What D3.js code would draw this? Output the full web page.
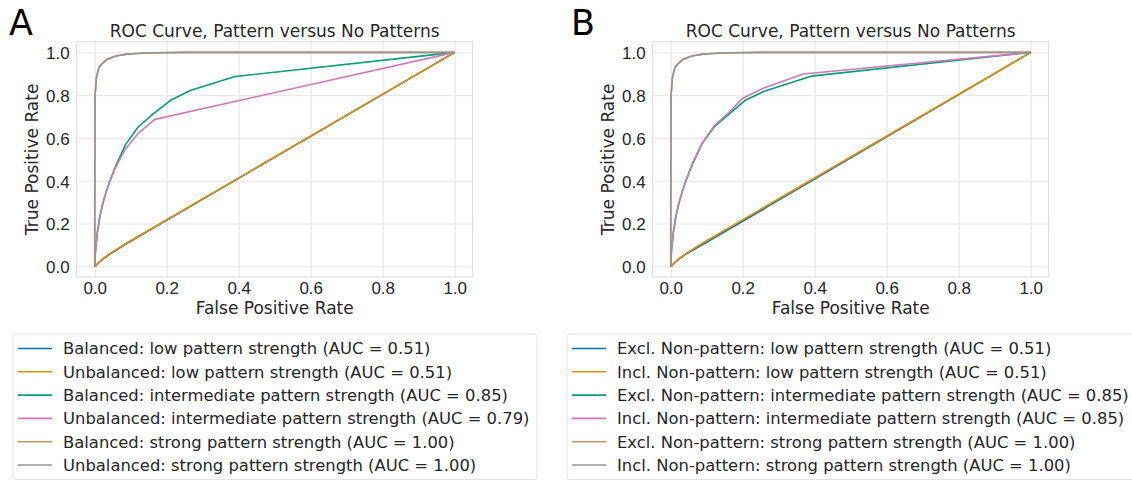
<!DOCTYPE html>
<html>
<head>
<meta charset="utf-8">
<script src="https://cdn.jsdelivr.net/npm/d3@7"></script>
<style>
  body { margin: 0; background: #fff; }
  svg { display: block; font-family: "DejaVu Sans", sans-serif; }
  .tick text { fill: #262626; font-size: 17px; }
  .domain { display: none; }
</style>
</head>
<body>
<svg id="chart" width="1132" height="481"></svg>
<script>
// Tick values shared by both axes.
const rateTicks = [0, 0.2, 0.4, 0.6, 0.8, 1.0];

// Series colours (seaborn colorblind).
const seriesColors = ["#0173b2", "#de8f05", "#029e73", "#cc78bc", "#ca9161", "#949494"];

// Panel A: balanced vs unbalanced, [FPR, TPR].
const aLowBalanced = [[0, 0], [0.02, 0.03], [0.045, 0.06], [0.09, 0.108], [1, 1]];
const aLowUnbalanced = [[0, 0], [0.02, 0.032], [0.045, 0.063], [0.09, 0.11], [1, 1]];
const aMidBalanced = [[0, 0], [0.002, 0.07], [0.0075, 0.16], [0.015, 0.24], [0.025, 0.31], [0.04, 0.39],
  [0.06, 0.475], [0.086, 0.57], [0.12, 0.65], [0.165, 0.716], [0.211, 0.776], [0.265, 0.822], [0.39, 0.887], [1, 1]];
const aMidUnbalanced = [[0, 0], [0.002, 0.07], [0.0075, 0.16], [0.015, 0.24], [0.025, 0.31], [0.04, 0.39],
  [0.06, 0.47], [0.086, 0.55], [0.12, 0.62], [0.167, 0.687], [1, 1]];
const aStrongBalanced = [[0, 0], [0.0005, 0.6], [0.001, 0.8], [0.005, 0.884], [0.012, 0.93], [0.021, 0.949],
  [0.035, 0.968], [0.058, 0.983], [0.09, 0.992], [0.14, 0.997], [0.25, 1], [1, 1]];
const aStrongUnbalanced = [[0, 0], [0.0005, 0.6], [0.001, 0.8], [0.005, 0.886], [0.012, 0.93], [0.021, 0.949],
  [0.035, 0.968], [0.058, 0.983], [0.09, 0.992], [0.14, 0.997], [0.25, 1], [1, 1]];

// Panel B: excluding vs including non-pattern.
const bLowExcl = [[0, 0], [0.02, 0.03], [0.045, 0.06], [0.095, 0.107], [1, 1]];
const bLowIncl = [[0, 0], [0.02, 0.032], [0.045, 0.063], [0.09, 0.11], [1, 1]];
const bMidExcl = [[0, 0], [0.002, 0.07], [0.0075, 0.16], [0.015, 0.24], [0.025, 0.31], [0.04, 0.39],
  [0.06, 0.475], [0.086, 0.57], [0.12, 0.65], [0.165, 0.716], [0.206, 0.775], [0.262, 0.82], [0.39, 0.889], [1, 1]];
const bMidIncl = [[0, 0], [0.002, 0.07], [0.0075, 0.16], [0.015, 0.24], [0.025, 0.31], [0.04, 0.392],
  [0.06, 0.48], [0.086, 0.572], [0.12, 0.655], [0.165, 0.725], [0.2, 0.786], [0.257, 0.832], [0.368, 0.899], [1, 1]];
const bStrongExcl = aStrongBalanced;
const bStrongIncl = aStrongUnbalanced;

const aLabels = [
  "Balanced: low pattern strength (AUC = 0.51)",
  "Unbalanced: low pattern strength (AUC = 0.51)",
  "Balanced: intermediate pattern strength (AUC = 0.85)",
  "Unbalanced: intermediate pattern strength (AUC = 0.79)",
  "Balanced: strong pattern strength (AUC = 1.00)",
  "Unbalanced: strong pattern strength (AUC = 1.00)"
];
const bLabels = [
  "Excl. Non-pattern: low pattern strength (AUC = 0.51)",
  "Incl. Non-pattern: low pattern strength (AUC = 0.51)",
  "Excl. Non-pattern: intermediate pattern strength (AUC = 0.85)",
  "Incl. Non-pattern: intermediate pattern strength (AUC = 0.85)",
  "Excl. Non-pattern: strong pattern strength (AUC = 1.00)",
  "Incl. Non-pattern: strong pattern strength (AUC = 1.00)"
];

const svg = d3.select("#chart");
const TEXT = "#262626";

const drawPanel = ({ letter, letterX, left, series, labels, legendX, legendW }) => {
  // Axes box.
  const top = 41.7;
  const bottom = 277;
  const right = left + 396;

  const x = d3.scaleLinear().domain([-0.05, 1.05]).range([left, right]);
  const y = d3.scaleLinear().domain([-0.05, 1.05]).range([bottom, top]);

  const g = svg.append("g");

  // Grid.
  g.append("g")
    .attr("transform", `translate(0,${bottom})`)
    .call(d3.axisBottom(x).tickValues(rateTicks).tickSize(-(bottom - top)).tickFormat(""))
    .call(s => s.selectAll(".tick line").attr("stroke", "#e4e4e4").attr("stroke-width", 1));
  g.append("g")
    .attr("transform", `translate(${left},0)`)
    .call(d3.axisLeft(y).tickValues(rateTicks).tickSize(-(right - left)).tickFormat(""))
    .call(s => s.selectAll(".tick line").attr("stroke", "#e4e4e4").attr("stroke-width", 1));

  // Spines.
  g.append("rect")
    .attr("x", left).attr("y", top)
    .attr("width", right - left).attr("height", bottom - top)
    .attr("fill", "none").attr("stroke", "#dadada").attr("stroke-width", 1);

  // Tick labels.
  g.append("g")
    .attr("transform", `translate(0,${bottom})`)
    .call(d3.axisBottom(x).tickValues(rateTicks).tickSize(0).tickPadding(4).tickFormat(d3.format(".1f")))
    .call(s => s.selectAll(".tick text").attr("dy", "0.71em").attr("y", 5));
  g.append("g")
    .attr("transform", `translate(${left},0)`)
    .call(d3.axisLeft(y).tickValues(rateTicks).tickSize(0).tickPadding(7).tickFormat(d3.format(".1f")))
    .call(s => s.selectAll(".tick text").attr("dy", "0.38em"));

  // Curves.
  const line = d3.line().x(d => x(d[0])).y(d => y(d[1]));
  g.append("g")
    .selectAll("path")
    .data(series)
    .join("path")
    .attr("d", line)
    .attr("fill", "none")
    .attr("stroke", (d, i) => seriesColors[i])
    .attr("stroke-width", 1.6)
    .attr("stroke-linejoin", "round");

  // Titles.
  g.append("text")
    .attr("x", (left + right) / 2).attr("y", 36.5)
    .attr("text-anchor", "middle").attr("fill", TEXT)
    .style("font-size", "17px")
    .text("ROC Curve, Pattern versus No Patterns");
  g.append("text")
    .attr("x", (left + right) / 2).attr("y", 314)
    .attr("text-anchor", "middle").attr("fill", TEXT)
    .style("font-size", "17px")
    .text("False Positive Rate");
  g.append("text")
    .attr("transform", `translate(${left - 38.5},${(top + bottom) / 2}) rotate(-90)`)
    .attr("text-anchor", "middle").attr("fill", TEXT)
    .style("font-size", "17px")
    .text("True Positive Rate");
  g.append("text")
    .attr("x", letterX).attr("y", 35)
    .attr("fill", "#000")
    .style("font-size", "35px")
    .text(letter);

  // Legend.
  const legend = g.append("g").attr("transform", `translate(${legendX},334)`);
  legend.append("rect")
    .attr("width", legendW).attr("height", 145.5)
    .attr("rx", 3)
    .attr("fill", "#fff").attr("stroke", "#e2e2e2").attr("stroke-width", 1);
  const rows = legend.selectAll("g.row")
    .data(labels)
    .join("g")
    .attr("class", "row")
    .attr("transform", (d, i) => `translate(0,${14.5 + i * 23.3})`);
  rows.append("line")
    .attr("x1", 5).attr("x2", 39)
    .attr("stroke", (d, i) => seriesColors[i])
    .attr("stroke-width", 1.6);
  rows.append("text")
    .attr("x", 50).attr("dy", "0.36em")
    .attr("fill", TEXT)
    .style("font-size", "16.4px")
    .text(d => d);
};

drawPanel({
  letter: "A", letterX: 9, left: 76.7,
  series: [aLowBalanced, aLowUnbalanced, aMidBalanced, aMidUnbalanced, aStrongBalanced, aStrongUnbalanced],
  labels: aLabels, legendX: 13, legendW: 524
});
drawPanel({
  letter: "B", letterX: 571, left: 652.7,
  series: [bLowExcl, bLowIncl, bMidExcl, bMidIncl, bStrongExcl, bStrongIncl],
  labels: bLabels, legendX: 567, legendW: 580
});
</script>
</body>
</html>
